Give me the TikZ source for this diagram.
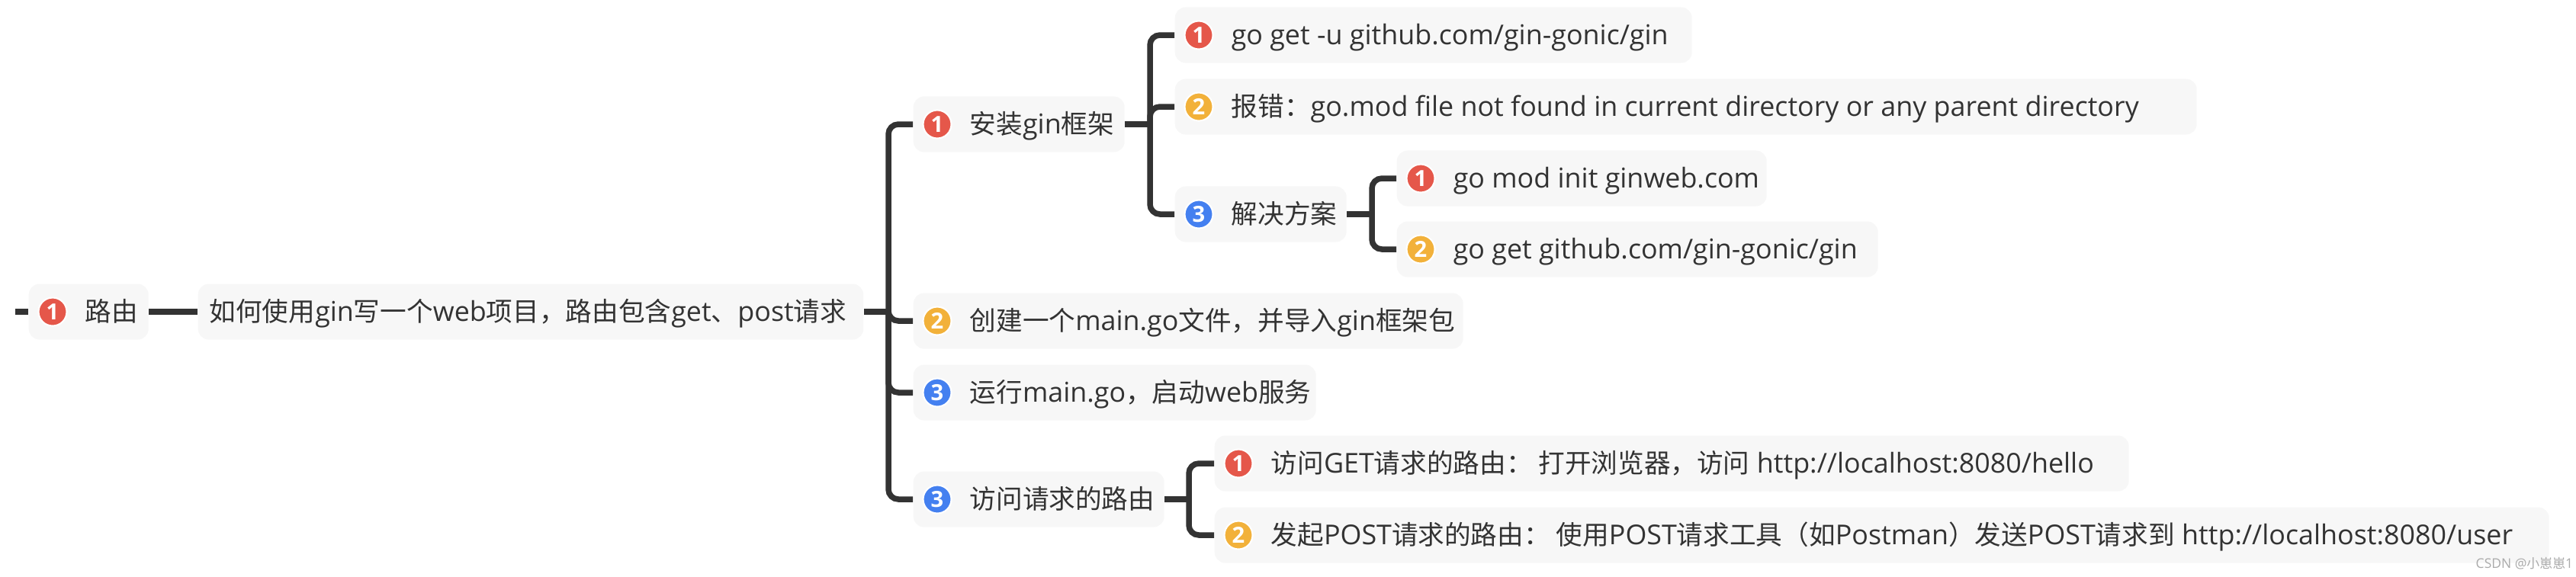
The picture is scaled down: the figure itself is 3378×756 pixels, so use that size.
\documentclass[tikz,border=0pt]{standalone}
\usepackage{fontspec}
\setmainfont[Scale=1.035]{Open Sans}
\newfontfamily\cjk{Noto Sans CJK SC}
\usetikzlibrary{positioning}
\definecolor{badgeRed}{HTML}{E5574A}
\definecolor{badgeYellow}{HTML}{F2B13A}
\definecolor{badgeBlue}{HTML}{4480F0}
\definecolor{boxGrey}{HTML}{F7F7F7}
\definecolor{inkDark}{HTML}{333333}
\definecolor{markGrey}{HTML}{AAAAAA}
\begin{document}
\begin{tikzpicture}[x=0.01cm,y=-0.01cm,
    every node/.style={font=\fontsize{9.85pt}{11pt}\selectfont,text=inkDark},
    topicbox/.style={fill=boxGrey,rounded corners=0.14cm,minimum height=0.73cm,inner sep=0pt,anchor=west},
    badge/.style={circle,draw=white,line width=0.6pt,inner sep=0pt,minimum size=0.37cm,text=white,font=\fontsize{8pt}{9pt}\selectfont\bfseries},
    topictext/.style={inner sep=0pt,anchor=base west},
    link/.style={inkDark,line width=0.075cm},
    branch/.style={link,rounded corners=0.13cm}]
  \useasboundingbox (0,0) rectangle (3378,756);
  \foreach \nm/\x/\y/\w/\col/\num/\t in {%
    route/37/409/157/badgeRed/1/{{\cjk 路由}},
    install/1197/163/277/badgeRed/1/{{\cjk 安装}gin{\cjk 框架}},
    createFile/1197/421/721/badgeYellow/2/{{\cjk 创建一个}main.go{\cjk 文件，并导入}gin{\cjk 框架包}},
    runMain/1197/515/528/badgeBlue/3/{{\cjk 运行}main.go{\cjk ，启动}web{\cjk 服务}},
    visit/1197/655/329/badgeBlue/3/{{\cjk 访问请求的路由}},
    goGet/1540/46/678/badgeRed/1/{go get -u github.com/gin-gonic/gin},
    modErr/1540/140/1340/badgeYellow/2/{{\cjk 报错：}go.mod file not found in current directory or any parent directory},
    fixIt/1540/281/225/badgeBlue/3/{{\cjk 解决方案}},
    modInit/1831/234/485/badgeRed/1/{go mod init ginweb.com},
    getGin/1831/327/631/badgeYellow/2/{go get github.com/gin-gonic/gin},
    visitGet/1592/608/1199/badgeRed/1/{{\cjk 访问}GET{\cjk 请求的路由： 打开浏览器，访问} http://localhost:8080/hello},
    sendPost/1592/702/1750/badgeYellow/2/{{\cjk 发起}POST{\cjk 请求的路由： 使用}POST{\cjk 请求工具（如}Postman{\cjk ）发送}POST{\cjk 请求到} http://localhost:8080/user}}{%
    \node[topicbox,minimum width=\w*0.01cm] (\nm) at (\x,\y) {};
    \node[badge,fill=\col] (\nm Badge) at ([xshift=0.32cm]\nm.west) {\num};
    \node[topictext] (\nm Text) at ([xshift=0.74cm,yshift=-0.12cm]\nm.west) {\t};
  }
  \node[topicbox,minimum width=8.72cm] (howTo) at (259,409) {};
  \node[topictext] (howToText) at ([xshift=0.15cm,yshift=-0.12cm]howTo.west) {{\cjk 如何使用}gin{\cjk 写一个}web{\cjk 项目，路由包含}get{\cjk 、}post{\cjk 请求}};
  \node[topictext,text=markGrey,font=\fontsize{4.8pt}{6pt}\selectfont] (csdnMark) at (3246,745) {CSDN @{\cjk 小崽崽}1};
  % trunks
  \coordinate (rootStub) at (20,409);
  \coordinate (howToTrunk) at (1165,409);
  \coordinate (installTrunk) at (1508,163);
  \coordinate (fixTrunk) at (1799,281);
  \coordinate (visitTrunk) at (1559,655);
  \draw[link] (rootStub) -- (route.west);
  \draw[link] (route.east) -- (howTo.west);
  \foreach \from/\tr in {howTo/howToTrunk,install/installTrunk,fixIt/fixTrunk,visit/visitTrunk}
    \draw[link] (\from.east) -- (\tr);
  \foreach \tr/\kid in {howToTrunk/install,howToTrunk/createFile,howToTrunk/runMain,howToTrunk/visit,
    installTrunk/goGet,installTrunk/modErr,installTrunk/fixIt,fixTrunk/modInit,fixTrunk/getGin,
    visitTrunk/visitGet,visitTrunk/sendPost}
    \draw[branch] (\tr) |- (\kid.west);
\end{tikzpicture}
\end{document}
